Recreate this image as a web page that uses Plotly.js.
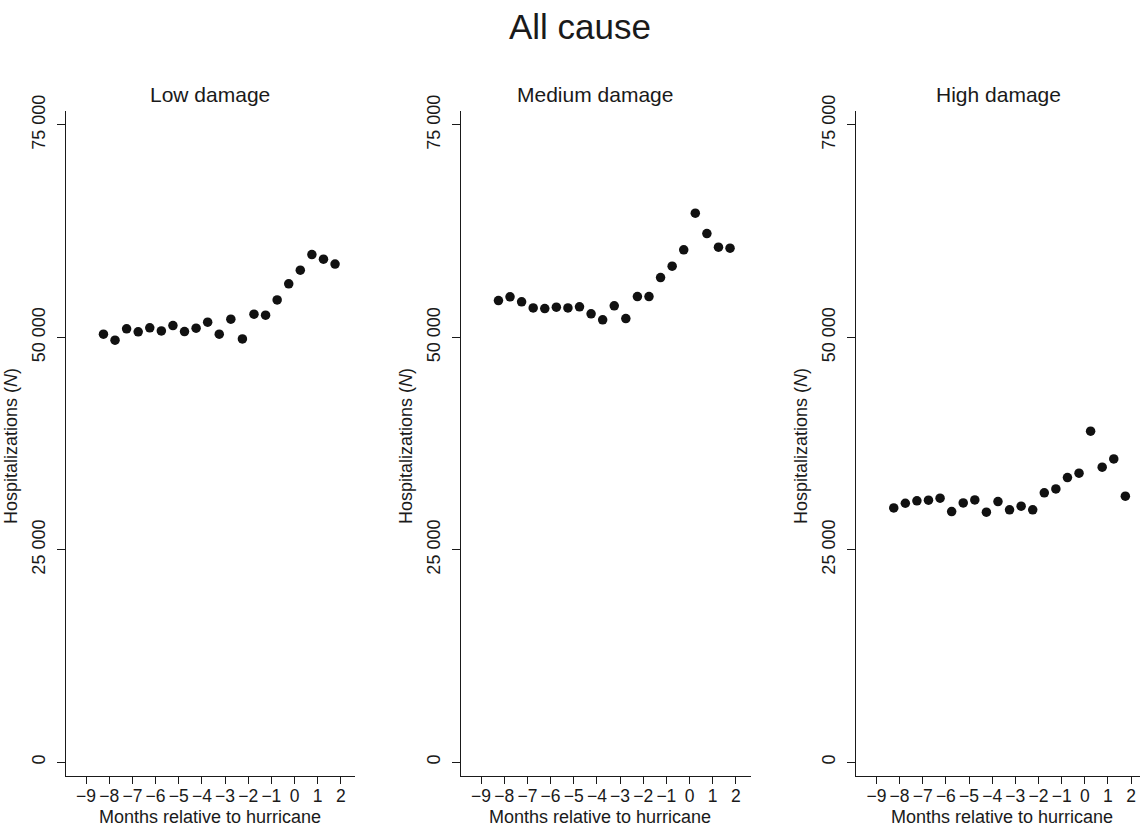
<!DOCTYPE html>
<html>
<head>
<meta charset="utf-8">
<script src="https://cdn.plot.ly/plotly-3.0.1.min.js"></script>
<style>html,body{margin:0;padding:0;background:#fff;}#chart{width:1140px;height:833px;}</style>
</head>
<body>
<div id="chart"></div>
<script>
// Months relative to hurricane (half-month bins)
const months = [-8.25, -7.75, -7.25, -6.75, -6.25, -5.75, -5.25, -4.75, -4.25, -3.75, -3.25,
                -2.75, -2.25, -1.75, -1.25, -0.75, -0.25, 0.25, 0.75, 1.25, 1.75];
const lowDamage = [50380, 49670, 51000, 50650, 51120, 50760, 51390, 50680, 51080, 51790, 50380,
                   52140, 49820, 52730, 52610, 54410, 56300, 57910, 59750, 59200, 58620];
const mediumDamage = [54330, 54770, 54180, 53470, 53390, 53550, 53470, 53590, 52770, 52060, 53710,
                      52210, 54800, 54800, 57040, 58380, 60300, 64620, 62220, 60620, 60500];
const highDamage = [29930, 30480, 30760, 30840, 31070, 29500, 30520, 30870, 29430, 30670, 29700,
                    30130, 29700, 31700, 32170, 33500, 34020, 38960, 34720, 35700, 31310];
const panelTitles = ["Low damage", "Medium damage", "High damage"];
const xTickVals = [-9, -8, -7, -6, -5, -4, -3, -2, -1, 0, 1, 2];
const xTickText = ["\u22129", "\u22128", "\u22127", "\u22126", "\u22125", "\u22124", "\u22123", "\u22122", "\u22121", "0", "1", "2"];
const yTickVals = [0, 25000, 50000, 75000];
const yTickText = ["0", "25 000", "50 000", "75 000"];

const W = 1140, H = 833;
const FONT = "Liberation Sans, Arial, Helvetica, sans-serif";
const INK = "#1a1a1a";
const series = [lowDamage, mediumDamage, highDamage];
const axLeft = [65.7, 460.7, 856];
const axRight = [355, 750.7, 1140];
const xStart = -9.88, pxPerMonth = 23.16;
const yTop = 111, yBot = 776;

const traces = series.map((vals, i) => ({
  type: "scatter", mode: "markers",
  x: months, y: vals,
  xaxis: i === 0 ? "x" : "x" + (i + 1),
  yaxis: i === 0 ? "y" : "y" + (i + 1),
  marker: {size: 9.5, color: "#111"},
  hoverinfo: "x+y", showlegend: false
}));

const layout = {
  width: W, height: H,
  margin: {l: 0, r: 0, t: 0, b: 0},
  paper_bgcolor: "#fff", plot_bgcolor: "#fff",
  font: {family: FONT, color: INK, size: 18},
  showlegend: false,
  annotations: []
};

const titleCenters = [210, 595, 998.5];
const xTitleCenters = [210, 600, 1002];
const yTitleX = [11, 406, 801];

for (let i = 0; i < 3; i++) {
  const sfx = i === 0 ? "" : String(i + 1);
  const xEnd = xStart + (axRight[i] - axLeft[i]) / pxPerMonth;
  layout["xaxis" + sfx] = {
    domain: [axLeft[i] / W, axRight[i] / W],
    range: [xStart, xEnd],
    anchor: "y" + sfx,
    showgrid: false, zeroline: false,
    showline: true, linecolor: INK, linewidth: 1,
    ticks: "outside", ticklen: 7, tickcolor: INK, tickwidth: 1,
    tickmode: "array", tickvals: xTickVals, ticktext: xTickText,
    ticklabelstandoff: -3,
    tickfont: {family: FONT, size: 17.5, color: INK},
    fixedrange: true
  };
  layout["yaxis" + sfx] = {
    domain: [1 - yBot / H, 1 - yTop / H],
    range: [-1620, 76640],
    anchor: "x" + sfx,
    showgrid: false, zeroline: false,
    showline: true, linecolor: INK, linewidth: 1,
    ticks: "outside", ticklen: 8, tickcolor: INK, tickwidth: 1,
    tickmode: "array", tickvals: yTickVals, ticktext: yTickText,
    tickangle: -90,
    ticklabelstandoff: 5,
    tickfont: {family: FONT, size: 18, color: INK},
    fixedrange: true
  };
  layout.annotations.push({
    text: panelTitles[i], xref: "paper", yref: "paper",
    x: titleCenters[i] / W, y: 1 - 94 / H, xanchor: "center", yanchor: "middle",
    showarrow: false, font: {family: FONT, size: 21, color: INK}
  });
  layout.annotations.push({
    text: "Months relative to hurricane", xref: "paper", yref: "paper",
    x: xTitleCenters[i] / W, y: 1 - 817 / H, xanchor: "center", yanchor: "middle",
    showarrow: false, font: {family: FONT, size: 18, color: INK}
  });
  layout.annotations.push({
    text: "Hospitalizations (<i>N</i>)", xref: "paper", yref: "paper",
    x: yTitleX[i] / W, y: 1 - 446 / H, xanchor: "center", yanchor: "middle",
    textangle: -90,
    showarrow: false, font: {family: FONT, size: 18, color: INK}
  });
}
layout.annotations.push({
  text: "All cause", xref: "paper", yref: "paper",
  x: 580 / W, y: 1 - 26 / H, xanchor: "center", yanchor: "middle",
  showarrow: false, font: {family: FONT, size: 35, color: INK}
});

Plotly.newPlot("chart", traces, layout, {displayModeBar: false, staticPlot: true});
</script>
</body>
</html>
